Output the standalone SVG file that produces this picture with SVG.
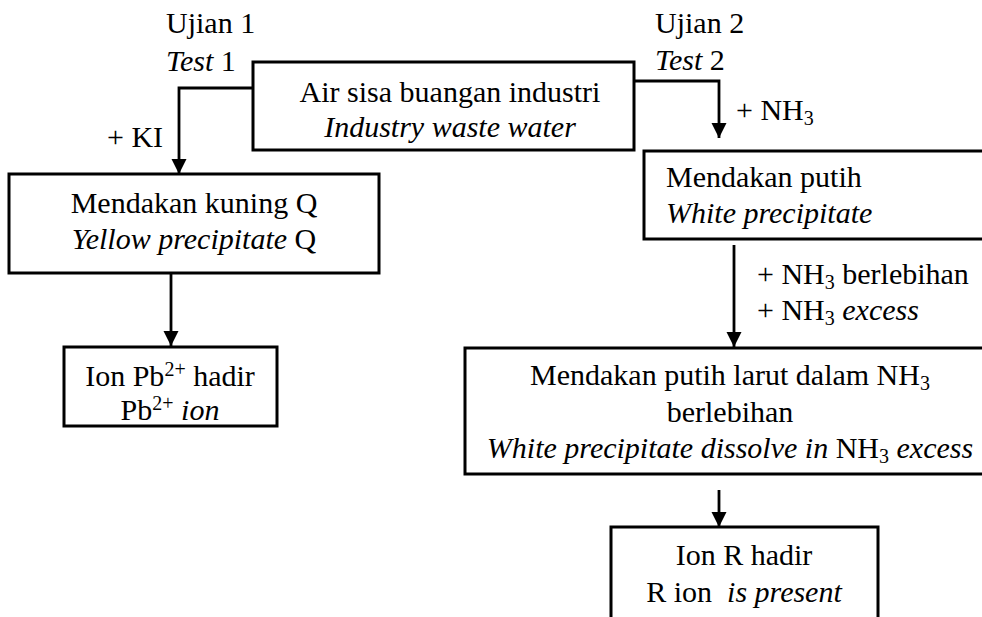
<svg xmlns="http://www.w3.org/2000/svg" width="982" height="617" viewBox="0 0 982 617">
<style>
  text { font-family: "Liberation Serif", "Times New Roman", serif; font-size: 30px; fill: #000; }
  .m { text-anchor: middle; }
  .i { font-style: italic; }
  .s { font-size: 20px; }
  .box { fill: #fff; stroke: #000; stroke-width: 3; }
  .con { fill: none; stroke: #000; stroke-width: 2.8; }
</style>
<defs>
  <marker id="ah" markerUnits="userSpaceOnUse" markerWidth="18" markerHeight="18" viewBox="0 0 18 18" refX="15" refY="9" orient="auto">
    <path d="M0,1.5 L15,9 L0,16.5 Z" fill="#000"/>
  </marker>
</defs>
<rect width="982" height="617" fill="#fff"/>
<g id="connectors">
  <path class="con" d="M253,88 H179 V174" marker-end="url(#ah)"/>
  <path class="con" d="M171,273 V346" marker-end="url(#ah)"/>
  <path class="con" d="M634,81 H719 V138" marker-end="url(#ah)"/>
  <path class="con" d="M734,245 V347" marker-end="url(#ah)"/>
  <path class="con" d="M719,490 V527" marker-end="url(#ah)"/>
</g>
<g id="labels">
  <text x="166" y="33">Ujian 1</text>
  <text x="166" y="71"><tspan class="i">Test</tspan> 1</text>
  <text x="655" y="33">Ujian 2</text>
  <text x="655" y="70"><tspan class="i">Test</tspan> 2</text>
  <text x="107" y="147">+ KI</text>
  <text x="736" y="120">+ NH<tspan class="s" dy="5">3</tspan></text>
  <text x="757" y="284">+ NH<tspan class="s" dy="5">3</tspan><tspan dy="-5"> berlebihan</tspan></text>
  <text x="757" y="320">+ NH<tspan class="s" dy="5">3</tspan><tspan dy="-5" class="i"> excess</tspan></text>
</g>
<g id="node-waste">
  <rect class="box" x="253" y="62" width="381" height="88"/>
  <text class="m" x="450" y="102">Air sisa buangan industri</text>
  <text class="m i" x="450" y="137">Industry waste water</text>
</g>
<g id="node-yellow">
  <rect class="box" x="9" y="174" width="370" height="99"/>
  <text class="m" x="194" y="213">Mendakan kuning Q</text>
  <text class="m" x="194" y="249"><tspan class="i">Yellow precipitate</tspan> Q</text>
</g>
<g id="node-pb">
  <rect class="box" x="64" y="347" width="213" height="79"/>
  <text class="m" x="170" y="386">Ion Pb<tspan class="s" dy="-10">2+</tspan><tspan dy="10"> hadir</tspan></text>
  <text class="m" x="170" y="420">Pb<tspan class="s" dy="-10">2+</tspan><tspan dy="10" class="i"> ion</tspan></text>
</g>
<g id="node-white">
  <rect class="box" x="644" y="151" width="345" height="88"/>
  <text x="666" y="187">Mendakan putih</text>
  <text class="i" x="666" y="223">White precipitate</text>
</g>
<g id="node-dissolve">
  <rect class="box" x="465" y="348" width="522" height="126"/>
  <text class="m" x="730" y="385">Mendakan putih larut dalam NH<tspan class="s" dy="5">3</tspan></text>
  <text class="m" x="730" y="422">berlebihan</text>
  <text class="m" x="730" y="458"><tspan class="i">White precipitate dissolve in</tspan> NH<tspan class="s" dy="5">3</tspan><tspan class="i" dy="-5"> excess</tspan></text>
</g>
<g id="node-r">
  <rect class="box" x="611" y="527" width="267" height="100"/>
  <text class="m" x="744" y="565">Ion R hadir</text>
  <text class="m" x="744" y="602" style="white-space:pre">R ion  <tspan class="i">is present</tspan></text>
</g>
</svg>
